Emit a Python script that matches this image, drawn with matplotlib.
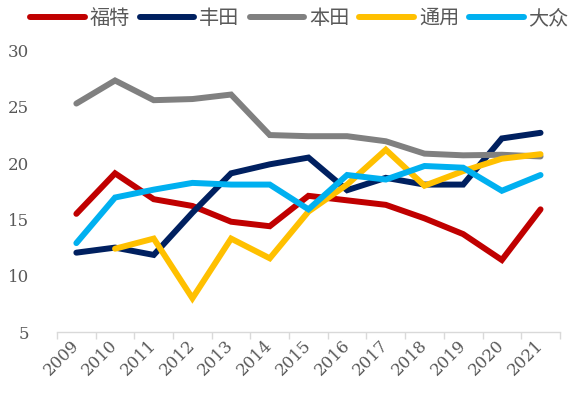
import matplotlib
matplotlib.use("Agg")
import matplotlib.pyplot as plt
from matplotlib.ticker import FixedLocator

years = ["2009", "2010", "2011", "2012", "2013", "2014", "2015",
         "2016", "2017", "2018", "2019", "2020", "2021"]
ford = [15.5, 19.1, 16.8, 16.2, 14.8, 14.4, 17.1, 16.7, 16.3, 15.1, 13.7, 11.4, 15.9]
toyota = [12.05, 12.5, 11.85, 15.6, 19.1, 19.9, 20.5, 17.6, 18.7, 18.1, 18.1, 22.2, 22.7]
honda = [25.3, 27.35, 25.6, 25.7, 26.1, 22.5, 22.4, 22.4, 21.95, 20.85, 20.7, 20.75, 20.6]
gm = [None, 12.4, 13.3, 8.0, 13.3, 11.55, 15.7, 18.1, 21.2, 18.0, 19.3, 20.4, 20.8]
vw = [12.9, 16.95, 17.65, 18.25, 18.1, 18.1, 15.9, 18.95, 18.55, 19.75, 19.6, 17.55, 18.95]

series = [("福特", ford, "#C00000"), ("丰田", toyota, "#002060"),
          ("本田", honda, "#808080"), ("通用", gm, "#FFC000"),
          ("大众", vw, "#00B0F0")]

plt.rcParams['font.family'] = ['DejaVu Serif', 'Noto Sans CJK SC']

fig = plt.figure(figsize=(5.76, 3.97), dpi=100)
ax = fig.add_axes([0.099, 0.1637, 0.873, 0.7087])

x = list(range(len(years)))
for name, vals, col in series:
    xs = [i for i, v in zip(x, vals) if v is not None]
    ys = [v for v in vals if v is not None]
    ax.plot(xs, ys, color=col, lw=4.3, label=name, solid_capstyle='round',
            solid_joinstyle='miter')

ax.set_xlim(-0.5, len(years) - 0.5)
ax.set_ylim(5, 30)
ax.set_yticks([5, 10, 15, 20, 25, 30])
ax.set_xticks(x)
ax.set_xticklabels(years, rotation=45, ha='right', va='center',
                   rotation_mode='anchor')
ax.xaxis.set_minor_locator(FixedLocator([i - 0.5 for i in range(len(years) + 1)]))
ax.tick_params(axis='x', which='major', length=0, pad=8, labelsize=12,
               labelcolor='#595959')
ax.tick_params(axis='x', which='minor', length=5, width=1, color='#D9D9D9')
ax.tick_params(axis='y', length=0, pad=20, labelsize=12, labelcolor='#595959')
for s in ['left', 'right', 'top']:
    ax.spines[s].set_visible(False)
ax.spines['bottom'].set_color('#D9D9D9')
ax.spines['bottom'].set_linewidth(1)

leg = fig.legend(loc='upper center', bbox_to_anchor=(0.52, 1.025), ncol=5,
                 frameon=False, handlelength=2.7, handletextpad=0.25,
                 columnspacing=0.5,
                 prop={'family': ['Noto Sans CJK SC'], 'size': 14.5})
for t in leg.get_texts():
    t.set_color('#595959')

fig.savefig("out.png", dpi=100)
